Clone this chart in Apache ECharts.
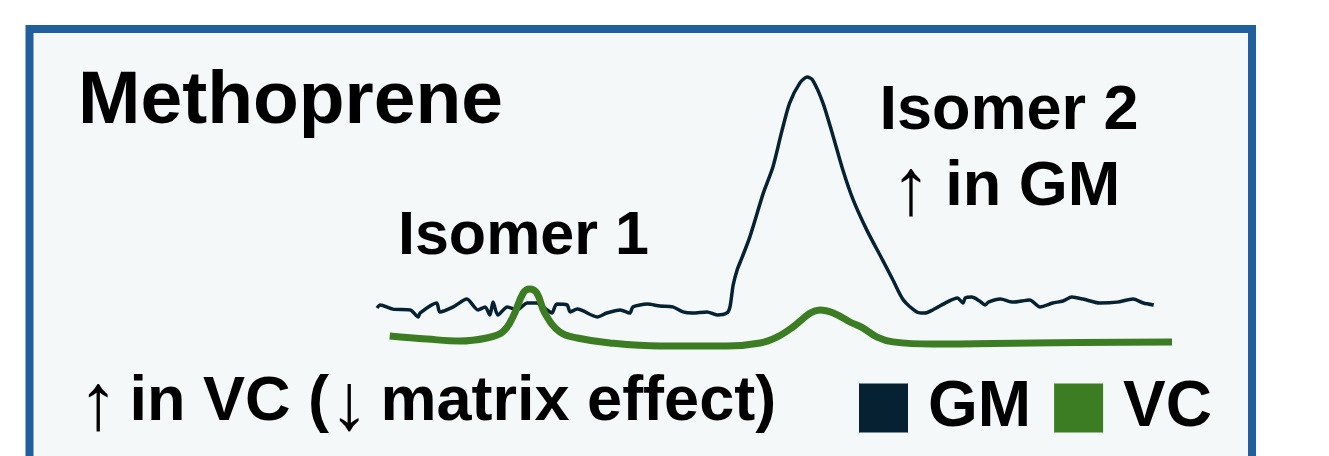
<!DOCTYPE html>
<html>
<head>
<meta charset="utf-8">
<script src="https://cdn.jsdelivr.net/npm/echarts@6/dist/echarts.min.js"></script>
<style>html,body{margin:0;padding:0;background:#fff;}#c{width:1329px;height:456px;}</style>
</head>
<body>
<div id="c"></div>
<script>
// Retention time (arbitrary units) and intensity (% of GM isomer-2 peak)
var gmTime = [0.0,0.4,2.0,4.2,5.2,5.4,7.5,7.9,9.6,11.3,12.7,13.6,14.2,14.6,15.2,16.4,17.6,18.9,20.1,21.4,22.0,22.6,23.9,24.3,25.2,27.7,28.9,30.6,31.8,32.2,34.0,35.6,37.2,38.5,39.7,41.5,42.8,44.0,44.4,44.8,45.3,45.9,46.9,48.6,49.8,50.9,51.9,53.2,54.1,54.8,56.1,57.4,58.6,59.9,61.6,63.6,64.9,66.2,67.9,68.9,69.9,71.7,73.0,73.7,74.0,74.8,75.8,76.5,76.9,78.4,80.0,82.1,83.4,85.0,86.3,87.4,88.8,90.9,93.1,95.1,96.4,97.7];
var gmIntensity = [15.0,16.1,14.6,14.3,11.8,13.2,16.8,13.6,15.4,18.2,14.3,15.4,12.5,17.1,12.5,15.4,14.3,16.8,16.8,14.3,13.2,16.4,16.1,13.6,14.6,11.8,13.2,14.3,13.2,15.4,16.4,15.7,15.4,13.6,13.2,13.6,12.5,13.2,15.4,23.2,28.6,32.9,40.4,56.1,65.4,77.9,88.2,95.4,97.5,96.4,88.2,76.1,64.3,53.6,42.9,32.1,25.0,17.9,13.6,13.2,14.3,17.1,18.6,16.8,18.6,18.9,17.5,16.1,17.1,18.2,17.1,17.9,15.4,16.8,17.5,18.9,18.2,16.8,17.1,18.2,16.8,16.1];
var vcTime = [1.6,6.3,10.4,13.8,15.8,17.1,18.4,19.2,20.1,21.1,23.0,25.2,29.3,35.6,44.0,48.2,50.3,52.3,54.5,55.7,57.4,59.5,61.1,62.9,64.9,69.9,82.5,100];
var vcIntensity = [5.0,3.9,3.2,4.3,6.4,11.8,20.4,21.8,20.4,13.2,6.4,4.3,2.5,1.4,1.4,2.5,4.6,8.2,13.2,14.3,13.2,10.0,7.9,4.6,2.9,2.1,2.5,2.9];
var seriesNames = ['GM', 'VC'];
var seriesColors = ['#062232', '#3c7d23'];
var titleText = 'Methoprene';
var isomer1Text = 'Isomer 1';
var isomer2Lines = ['Isomer 2', '↑ in GM'];
var noteText = '↑ in VC (↓ matrix effect)';

function pairs(xs, ys) { return xs.map(function (x, i) { return [x, ys[i]]; }); }
var FONT = '"Liberation Sans", Arial, Helvetica, sans-serif';

function arrowRich(str) {
  return str.replace(/([↑↓])/g, '{a|$1}');
}
var rich = { a: { fontFamily: FONT, fontWeight: 'normal', fontSize: 80, fill: '#000', padding: [8, 0, 0, 0], width: 34 } };

var chart = echarts.init(document.getElementById('c'), null, { renderer: 'canvas' });
chart.setOption({
  backgroundColor: '#ffffff',
  animation: false,
  grid: { left: 377, right: 157, top: 70, bottom: 106 },
  xAxis: { type: 'value', min: 0, max: 100, show: false },
  yAxis: { type: 'value', min: 0, max: 100, show: false },
  legend: {
    left: 859, top: 376, padding: 0,
    itemWidth: 49, itemHeight: 49, itemGap: 23,
    icon: 'rect',
    data: seriesNames,
    textStyle: { fontFamily: FONT, fontWeight: 'bold', fontSize: 64, color: '#000', padding: [0, 0, 0, 15] },
    selectedMode: false
  },
  graphic: [
    { type: 'rect', z: -10, shape: { x: 29.5, y: 29, width: 1222.5, height: 500 },
      style: { fill: '#f5f8f9', stroke: '#21609c', lineWidth: 8 } },
    { type: 'text', x: 78, y: 102, style: { text: titleText, font: 'bold 75px ' + FONT, fill: '#000', verticalAlign: 'middle', align: 'left' } },
    { type: 'text', x: 398, y: 237, style: { text: isomer1Text, font: 'bold 61px ' + FONT, fill: '#000', verticalAlign: 'middle', align: 'left' } },
    { type: 'text', x: 1009, y: 112, style: { text: isomer2Lines[0], font: 'bold 63px ' + FONT, fill: '#000', verticalAlign: 'middle', align: 'center' } },
    { type: 'text', x: 1007, y: 188, style: { text: arrowRich(isomer2Lines[1]), font: 'bold 63px ' + FONT, fill: '#000', verticalAlign: 'middle', align: 'center', rich: rich } },
    { type: 'text', x: 78, y: 403, style: { text: arrowRich(noteText), font: 'bold 63px ' + FONT, fill: '#000', verticalAlign: 'middle', align: 'left', rich: rich } }
  ],
  series: [
    { name: seriesNames[0], type: 'line', data: pairs(gmTime, gmIntensity), showSymbol: false, smooth: 0.25,
      itemStyle: { color: seriesColors[0] }, lineStyle: { color: seriesColors[0], width: 3.5 }, z: 3 },
    { name: seriesNames[1], type: 'line', data: pairs(vcTime, vcIntensity), showSymbol: false, smooth: 0.4,
      itemStyle: { color: seriesColors[1] }, lineStyle: { color: seriesColors[1], width: 7, cap: 'butt' }, z: 4 }
  ]
});
</script>
</body>
</html>
